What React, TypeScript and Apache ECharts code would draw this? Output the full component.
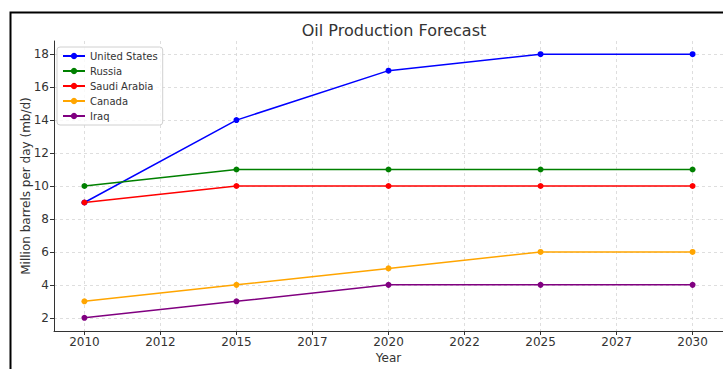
import React, { useEffect, useRef } from "react";
import * as echarts from "echarts";

const years = [2010, 2015, 2020, 2025, 2030];
const unitedStates = [9, 14, 17, 18, 18];
const russia = [10, 11, 11, 11, 11];
const saudiArabia = [9, 10, 10, 10, 10];
const canada = [3, 4, 5, 6, 6];
const iraq = [2, 3, 4, 4, 4];

const seriesNames = ["United States", "Russia", "Saudi Arabia", "Canada", "Iraq"];
const seriesColors = ["#0000ff", "#008000", "#ff0000", "#ffa500", "#800080"];
const seriesValues = [unitedStates, russia, saudiArabia, canada, iraq];

const xTicks = [2010, 2012.5, 2015, 2017.5, 2020, 2022.5, 2025, 2027.5, 2030];
const yTicks = [2, 4, 6, 8, 10, 12, 14, 16, 18];

const FONT = "DejaVu Sans";

export default function App() {
  const ref = useRef<HTMLDivElement>(null);
  useEffect(() => {
    if (!ref.current) return;
    const chart = echarts.init(ref.current, null, { renderer: "svg" });
    const gridLine = { show: true, lineStyle: { color: "#d6d6d6", type: [3, 3], width: 0.8 } };
    chart.setOption({
      animation: false,
      backgroundColor: "#ffffff",
      title: {
        text: "Oil Production Forecast",
        left: 389,
        top: 17,
        textAlign: "center",
        textStyle: { fontFamily: FONT, fontSize: 16, fontWeight: "normal", color: "#333333" },
      },
      grid: { left: 54, right: 0, top: 41, bottom: 37 },
      legend: {
        orient: "vertical",
        left: 57,
        top: 47,
        padding: [4, 5, 4, 5],
        itemWidth: 22,
        itemHeight: 8,
        itemGap: 5,
        itemTextGap: 12,
        backgroundColor: "rgba(255,255,255,0.8)",
        borderColor: "#d0d0d0",
        borderWidth: 1,
        borderRadius: 3,
        textStyle: { fontFamily: FONT, fontSize: 10, color: "#333333" },
        data: seriesNames,
      },
      xAxis: {
        type: "value",
        min: 2009,
        max: 2031,
        name: "Year",
        nameLocation: "middle",
        nameGap: 21,
        nameMoveOverlap: false,
        nameTextStyle: { fontFamily: FONT, fontSize: 12, color: "#333333" },
        axisLine: { show: true, onZero: false, lineStyle: { color: "#333333", width: 1 } },
        axisTick: { show: true, length: 4, customValues: xTicks, lineStyle: { color: "#333333" } },
        axisLabel: {
          customValues: xTicks,
          formatter: (v: number) => String(Math.floor(v)),
          fontFamily: FONT,
          fontSize: 12,
          color: "#333333",
          margin: 5,
        },
        splitLine: gridLine,
      },
      yAxis: {
        type: "value",
        min: 1.2,
        max: 18.8,
        name: "Million barrels per day (mb/d)",
        nameLocation: "middle",
        nameGap: 22,
        nameMoveOverlap: false,
        nameTextStyle: { fontFamily: FONT, fontSize: 12, color: "#333333" },
        axisLine: { show: true, onZero: false, lineStyle: { color: "#333333", width: 1 } },
        axisTick: { show: true, length: 4, customValues: yTicks, lineStyle: { color: "#333333" } },
        axisLabel: {
          customValues: yTicks,
          fontFamily: FONT,
          fontSize: 12,
          color: "#333333",
          margin: 5,
        },
        splitLine: gridLine,
      },
      graphic: [
        {
          type: "rect",
          left: 8,
          top: 10,
          shape: { x: 0, y: 0, width: 760, height: 400 },
          style: { fill: "none", stroke: "#000000", lineWidth: 2 },
          silent: true,
        },
      ],
      series: seriesNames.map((name, i) => ({
        name,
        type: "line",
        data: years.map((y, j) => [y, seriesValues[i][j]]),
        symbol: "circle",
        symbolSize: 6,
        showSymbol: true,
        lineStyle: { color: seriesColors[i], width: 1.5 },
        itemStyle: { color: seriesColors[i] },
        emphasis: { disabled: true },
      })),
    });
    return () => chart.dispose();
  }, []);
  return (
    <div
      ref={ref}
      style={{ position: "absolute", left: 0, top: 0, width: 723, height: 369 }}
    />
  );
}
